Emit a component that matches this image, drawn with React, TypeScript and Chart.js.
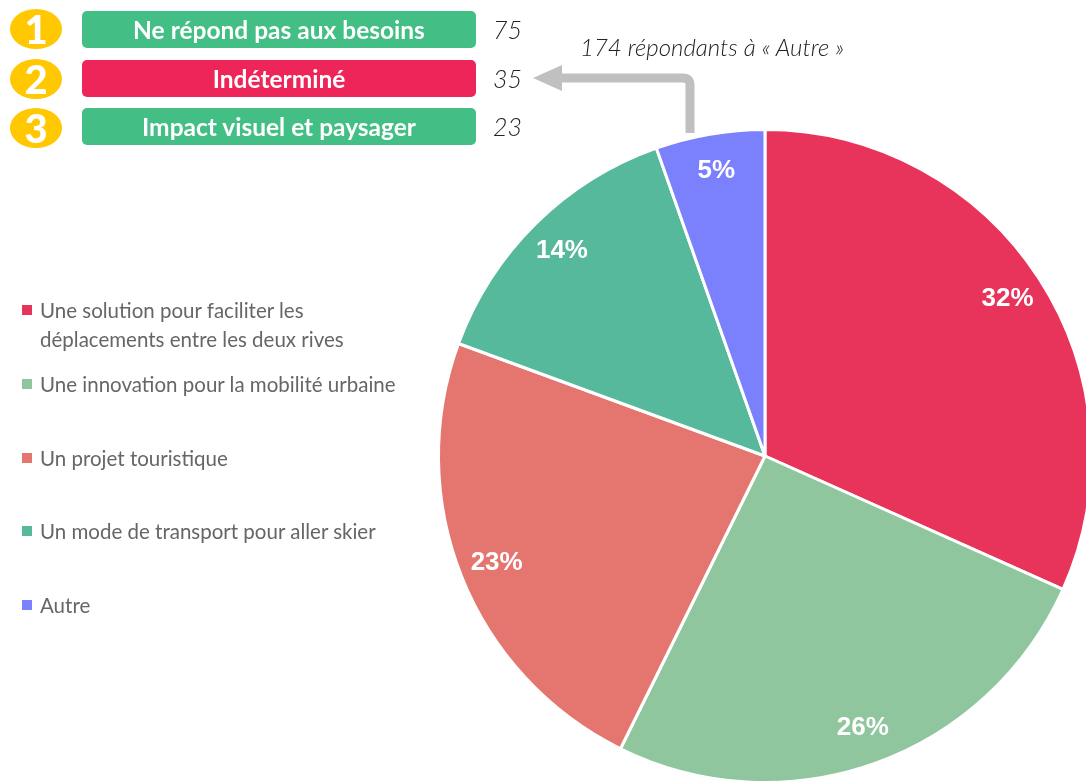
import React, { useEffect, useRef } from "react";
import { Chart, registerables } from "chart.js";

Chart.register(...registerables);

const categories = [
  "Une solution pour faciliter les déplacements entre les deux rives",
  "Une innovation pour la mobilité urbaine",
  "Un projet touristique",
  "Un mode de transport pour aller skier",
  "Autre",
];
const legendLines = [
  ["Une solution pour faciliter les", "déplacements entre les deux rives"],
  ["Une innovation pour la mobilité urbaine"],
  ["Un projet touristique"],
  ["Un mode de transport pour aller skier"],
  ["Autre"],
];
const shares = [31.7, 25.6, 23.3, 14.0, 5.4];
const shareLabels = ["32%", "26%", "23%", "14%", "5%"];
const colors = ["#E8335A", "#8FC69E", "#E5766F", "#57B99B", "#7B80FC"];

const reasonRanks = ["1", "2", "3"];
const reasons = ["Ne répond pas aux besoins", "Indéterminé", "Impact visuel et paysager"];
const reasonCounts = ["75", "35", "23"];
const reasonColors = ["#43BF86", "#EE2558", "#43BF86"];
const annotation = "174 répondants à « Autre »";

const FONT = "Lato, 'Noto Sans', sans-serif";

const labelPlugin = {
  id: "sliceLabels",
  afterDatasetsDraw(chart: any) {
    const ctx = chart.ctx;
    const meta = chart.getDatasetMeta(0);
    ctx.save();
    ctx.fillStyle = "#ffffff";
    ctx.font = "bold 26px 'Liberation Sans', Arial, sans-serif";
    ctx.textAlign = "center";
    ctx.textBaseline = "middle";
    meta.data.forEach((arc: any, i: number) => {
      const p = arc.getProps(["x", "y", "startAngle", "endAngle", "outerRadius"], true);
      const mid = (p.startAngle + p.endAngle) / 2;
      const r = p.outerRadius * 0.885;
      ctx.fillText(shareLabels[i], p.x + Math.cos(mid) * r, p.y + Math.sin(mid) * r);
    });
    ctx.restore();
  },
};

export default function App() {
  const ref = useRef<HTMLCanvasElement>(null);
  useEffect(() => {
    document.body.style.margin = "0";
    const chart = new Chart(ref.current!, {
      type: "pie",
      data: {
        labels: categories,
        datasets: [
          {
            data: shares,
            backgroundColor: colors,
            borderColor: "#ffffff",
            borderWidth: 3,
          },
        ],
      },
      options: {
        animation: false,
        responsive: false,
        layout: { padding: { left: 437, right: 7, top: 128, bottom: 16 } },
        plugins: { legend: { display: false }, tooltip: { enabled: false } },
      },
      plugins: [labelPlugin],
    });
    return () => chart.destroy();
  }, []);

  const legendTops = [296, 370, 444, 517, 591];

  return (
    <div style={{ position: "absolute", left: 0, top: 0, width: 1086, height: 781, overflow: "hidden", background: "#fff", fontFamily: FONT }}>
      <canvas ref={ref} width={1100} height={800} style={{ position: "absolute", left: 0, top: 0, width: 1100, height: 800 }} />

      {reasons.map((r, i) => (
        <React.Fragment key={r}>
          <div style={{ position: "absolute", left: 10, top: 9 + i * 49.5, width: 52, height: 40, borderRadius: "50%", background: "#FFC800", color: "#fff", fontWeight: 900, fontSize: 40, lineHeight: "40px", textAlign: "center" }}>
            {reasonRanks[i]}
          </div>
          <div style={{ position: "absolute", left: 82, top: 11 + i * 48.5, width: 394, height: 37, borderRadius: 5, background: reasonColors[i], color: "#fff", fontWeight: 700, fontSize: 24.5, lineHeight: "37px", textAlign: "center" }}>
            {r}
          </div>
          <div style={{ position: "absolute", left: 493, top: 11 + i * 48.5, fontStyle: "italic", fontWeight: 300, fontSize: 25, lineHeight: "37px", color: "#222" }}>
            {reasonCounts[i]}
          </div>
        </React.Fragment>
      ))}

      <div style={{ position: "absolute", left: 580, top: 32, fontStyle: "italic", fontWeight: 300, fontSize: 24, lineHeight: "30px", color: "#222", whiteSpace: "nowrap" }}>
        {annotation}
      </div>

      <svg width={1086} height={781} style={{ position: "absolute", left: 0, top: 0, pointerEvents: "none" }}>
        <path d="M690 133 L690 85 Q690 78 683 78 L558 78" fill="none" stroke="#C0C0C0" strokeWidth={9} />
        <polygon points="533,78 562,65 562,91" fill="#C0C0C0" />
      </svg>

      {legendLines.map((lines, i) => (
        <div key={i} style={{ position: "absolute", left: 22, top: legendTops[i] }}>
          <div style={{ position: "absolute", left: 0, top: 9, width: 10, height: 10, background: colors[i] }} />
          <div style={{ position: "absolute", left: 18, top: 0, fontSize: 20.5, lineHeight: "29px", color: "#666", whiteSpace: "nowrap" }}>
            {lines.map((l, j) => (
              <div key={j}>{l}</div>
            ))}
          </div>
        </div>
      ))}
    </div>
  );
}
